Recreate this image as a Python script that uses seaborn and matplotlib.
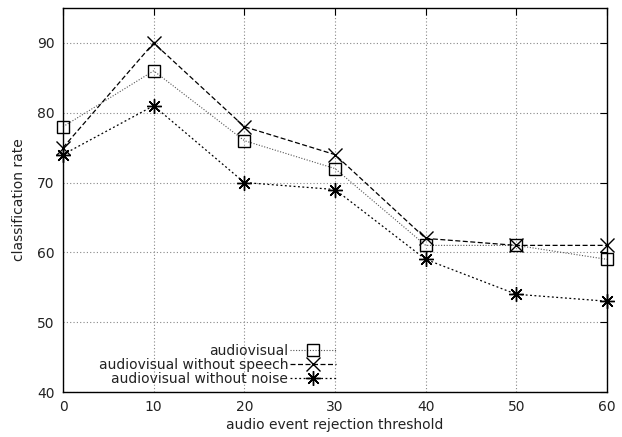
import matplotlib
matplotlib.use("Agg")
import matplotlib.pyplot as plt
import seaborn as sns
import pandas as pd

thresholds = [0, 10, 20, 30, 40, 50, 60]
audiovisual = [78, 86, 76, 72, 61, 61, 59]
without_speech = [75, 90, 78, 74, 62, 61, 61]
without_noise = [74, 81, 70, 69, 59, 54, 53]
labels = ["audiovisual", "audiovisual without speech", "audiovisual without noise"]
x_ticks = [0, 10, 20, 30, 40, 50, 60]
y_ticks = [40, 50, 60, 70, 80, 90]

sns.set_style("white")
plt.rcParams['font.family'] = ['DejaVu Sans']
plt.rcParams['font.size'] = 10

fig = plt.figure(figsize=(6.22, 4.37), dpi=100)
ax = fig.add_axes([63/622, 45/437, 544/622, 384/437])

styles = [
    dict(linestyle=(0, (1, 1.5)), marker='s', markersize=9, markerfacecolor='none',
         markeredgecolor='black', color='#555555', linewidth=0.8, markeredgewidth=1.0),
    dict(linestyle=(0, (4, 2)), marker='x', markersize=9.5, color='black',
         markeredgecolor='black', linewidth=0.9, markeredgewidth=1.0),
    dict(linestyle=(0, (1.5, 2)), marker=(8, 2, 0), markersize=10.5, color='black',
         markeredgecolor='black', linewidth=0.9, markeredgewidth=1.0),
]
series = [audiovisual, without_speech, without_noise]
for lab, vals, st in zip(labels, series, styles):
    df = pd.DataFrame({"x": thresholds, "y": vals})
    sns.lineplot(data=df, x="x", y="y", ax=ax, label=lab, clip_on=False, **st)

ax.set_xlim(0, 60)
ax.set_ylim(40, 95)
ax.set_xticks(x_ticks)
ax.set_yticks(y_ticks)
ax.grid(True, color='#888888', linestyle=(0, (1, 2)), linewidth=0.8)
ax.tick_params(direction='in', length=5, top=True, right=True, labelsize=10,
               pad=6, colors='black')
ax.tick_params(axis='both', labelcolor='#222222')
for sp in ax.spines.values():
    sp.set_color('black')
    sp.set_linewidth(1.0)
ax.set_xlabel("audio event rejection threshold", fontsize=10, labelpad=3, color='#222222')
ax.set_ylabel("classification rate", fontsize=10, labelpad=8, color='#222222')

leg = ax.legend(loc='lower right', bbox_to_anchor=(0.52, -0.01), frameon=False,
                markerfirst=False, handlelength=3.3, handletextpad=0.15,
                labelspacing=0.0, borderpad=0.2, fontsize=10)
for t in leg.get_texts():
    t.set_ha('right')
    t.set_color('#222222')

fig.savefig("out.png", dpi=100)
